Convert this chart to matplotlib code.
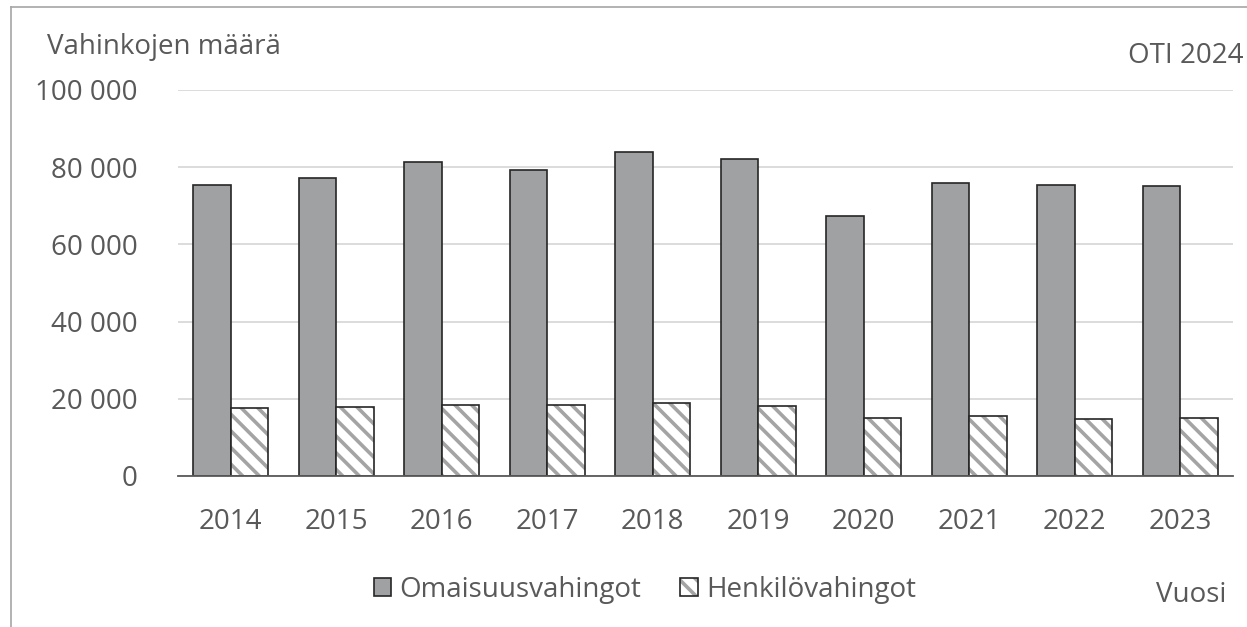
import numpy as np
import matplotlib
matplotlib.use('Agg')
import matplotlib.pyplot as plt
from matplotlib.lines import Line2D
from matplotlib.patches import Patch
from matplotlib.ticker import FuncFormatter

years = ['2014', '2015', '2016', '2017', '2018', '2019', '2020', '2021', '2022', '2023']
omaisuus = [75500, 77100, 81400, 79400, 83900, 82000, 67400, 75800, 75500, 75100]
henkilo = [17700, 18000, 18300, 18400, 18900, 18100, 15100, 15600, 14700, 15100]

plt.rcParams['font.family'] = ['Open Sans', 'DejaVu Sans']
plt.rcParams['hatch.linewidth'] = 2.6
txt = '#595959'
gray = '#a0a1a3'
hatch_gray = '#a4a4a4'
edge = '#262626'

fig = plt.figure(figsize=(12.47, 6.27), dpi=100)
ax = fig.add_axes([178 / 1247, 1 - 476 / 627, 1055 / 1247, 386 / 627])

x = np.arange(len(years))
w = 0.355
ax.bar(x - w / 2, omaisuus, w, color=gray, edgecolor=edge, lw=1.2, zorder=3)
# hatch in gray first, then the dark outline on top
ax.bar(x + w / 2, henkilo, w, color='white', edgecolor=hatch_gray, lw=0,
       hatch='\\\\', zorder=3)
ax.bar(x + w / 2, henkilo, w, fill=False, edgecolor=edge, lw=1.2, zorder=3)

ax.set_xlim(-0.5, len(years) - 0.5)
ax.set_ylim(0, 100000)
ax.set_yticks(np.arange(0, 100001, 20000))
ax.yaxis.set_major_formatter(FuncFormatter(lambda v, p: f'{int(v):,}'.replace(',', ' ')))
ax.set_xticks(x)
ax.set_xticklabels(years)
ax.tick_params(axis='both', length=0, labelsize=20, colors=txt)
ax.tick_params(axis='y', pad=29)
ax.tick_params(axis='x', pad=23)
ax.grid(axis='y', color='#d9d9d9', lw=1.3, zorder=0)
for s in ['top', 'right', 'left']:
    ax.spines[s].set_visible(False)
ax.spines['bottom'].set_color('#595959')
ax.spines['bottom'].set_linewidth(1.3)
ax.spines['bottom'].set_zorder(4)

fig.text(47 / 1247, 1 - 47 / 627, 'Vahinkojen määrä', fontsize=20, color=txt,
         ha='left', va='center')
fig.text(1243 / 1247, 1 - 56 / 627, 'OTI 2024', fontsize=20, color=txt,
         ha='right', va='center')
fig.text(1226 / 1247, 1 - 595 / 627, 'Vuosi', fontsize=20, color=txt,
         ha='right', va='center')

h1 = Patch(facecolor=gray, edgecolor=edge, lw=1.2)
h2 = (Patch(facecolor='white', edgecolor=hatch_gray, lw=0, hatch='\\\\'),
      Patch(fill=False, edgecolor=edge, lw=1.2))
leg = fig.legend([h1, h2], ['Omaisuusvahingot', 'Henkilövahingot'],
                 loc='center', bbox_to_anchor=(645 / 1247, 1 - 590 / 627),
                 ncol=2, frameon=False, fontsize=20, handlelength=0.62,
                 handleheight=0.62, handletextpad=0.3, columnspacing=1.4,
                 labelcolor=txt)

# figure border (top and left only visible)
fig.add_artist(Line2D([11 / 1247, 11 / 1247], [0, 1 - 7 / 627], color='#a6a6a6', lw=1.2,
                      transform=fig.transFigure))
fig.add_artist(Line2D([11 / 1247, 1], [1 - 7 / 627, 1 - 7 / 627], color='#a6a6a6', lw=1.2,
                      transform=fig.transFigure))

fig.savefig('out.png', dpi=100)
